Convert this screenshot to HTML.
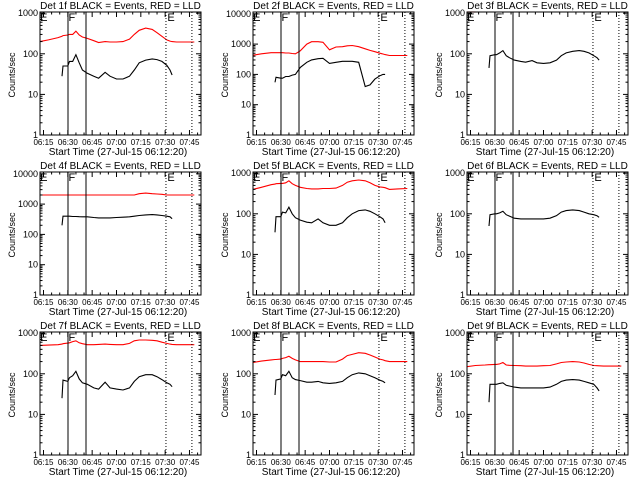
<!DOCTYPE html>
<html><head><meta charset="utf-8"><style>
html,body{margin:0;padding:0;background:#fff}
svg{display:block}
text{font-family:"Liberation Sans",sans-serif;fill:#000}
</style></head><body>
<svg id="chart" width="640" height="480" viewBox="0 0 640 480" xmlns="http://www.w3.org/2000/svg"></svg>
<script>
// time samples: minutes since 06:00
const T = [12.8,18,24,26.4,27,30,31,33,35,37,39,42,46,49,53,56,60,64,68,71,74,78,82,85,88,91,93,94.3,97,102,108];
const n = null;
const detNames = ["1f","2f","3f","4f","5f","6f","7f","8f","9f"];
const decades = [3,4,3,4,3,3,3,3,3];
const xTickLabels = ["06:15","06:30","06:45","07:00","07:15","07:30","07:45"];
const xTickMinutes = [15,30,45,60,75,90,105];
const solidMarks = [30.1,41.2];
const dottedMarks = [90.5,106.5];
const markLetters = ["E","F","E"];
const markLetterTimes = [13.5,31,92];
const black1 = [n,n,n,28,50,50,65,65,95,60,40,33,28,25,35,28,24,24,28,40,60,70,75,72,65,52,40,30,n,n,n];
const red1 = [200,220,250,270,280,290,300,300,360,290,260,240,210,190,200,195,195,200,230,300,380,430,400,330,270,220,205,200,195,195,195];
const black2 = [n,n,n,55,80,75,75,85,85,95,100,170,250,300,330,340,230,250,270,270,270,250,40,45,70,90,100,100,n,n,n];
const red2 = [430,480,520,520,520,520,520,510,510,490,480,600,1000,1200,1200,1150,650,800,820,880,900,820,700,620,560,500,470,450,420,420,420];
const black3 = [n,n,n,45,90,95,95,105,120,90,80,70,65,62,68,60,58,60,70,90,105,115,120,115,105,90,80,70,n,n,n];
const red3 = [1200,1200,n,n,n,n,n,n,n,n,n,1200,1200,1200,1200,1200,1200,1200,n,n,n,n,n,n,n,1200,1200,1200,1200,1200,1200];
const black4 = [n,n,n,200,400,400,400,390,390,385,380,380,360,350,350,350,360,370,380,400,420,440,450,440,420,400,380,330,n,n,n];
const red4 = [2000,2000,2000,2000,2000,2000,2000,2000,2000,2000,2000,2000,2000,2000,2000,2000,2000,2000,2000,2000,2200,2300,2200,2150,2100,2000,2000,2000,2000,2000,2000];
const black5 = [n,n,n,35,85,85,110,105,145,100,80,70,62,60,75,60,52,52,60,80,100,120,125,115,100,85,75,60,n,n,n];
const red5 = [400,450,520,540,550,560,560,580,650,550,500,450,420,410,410,420,420,430,500,600,650,680,650,580,500,460,450,440,400,410,420];
const black6 = [n,n,n,50,95,100,100,105,115,95,88,78,75,75,75,75,75,78,90,110,120,125,120,110,100,95,90,82,n,n,n];
const red6 = [n,n,n,n,n,n,n,n,n,n,n,n,n,n,n,n,n,n,n,n,n,n,n,n,n,n,n,n,n,n,n];
const black7 = [n,n,n,25,70,65,80,90,115,75,60,55,45,42,62,45,42,40,45,65,85,95,95,85,72,60,55,48,n,n,n];
const red7 = [500,510,520,540,550,570,580,620,650,580,550,520,520,530,540,530,520,520,560,650,680,680,670,650,600,560,540,530,520,520,520];
const black8 = [n,n,n,30,70,75,95,90,115,80,72,68,62,62,65,60,58,60,65,80,95,105,100,90,80,70,65,60,n,n,n];
const red8 = [190,205,220,225,225,230,240,250,270,240,220,200,200,200,200,200,195,195,230,280,300,330,320,290,260,230,220,210,200,200,200];
const black9 = [n,n,n,20,55,55,55,58,60,52,50,47,45,45,45,45,45,47,55,65,70,72,70,65,60,55,45,38,n,n,n];
const red9 = [150,160,165,168,168,170,170,175,190,165,162,160,158,155,155,155,158,160,175,190,195,200,195,185,170,160,158,157,155,155,155];
const blacks = [black1,black2,black3,black4,black5,black6,black7,black8,black9];
const reds = [red1,red2,red3,red4,red5,red6,red7,red8,red9];

const NS = "http://www.w3.org/2000/svg";
const svg = document.getElementById("chart");
function mk(tag, attrs, parent){
  const e = document.createElementNS(NS, tag);
  for (const k in attrs) e.setAttribute(k, attrs[k]);
  parent.appendChild(e);
  return e;
}
for (let p = 0; p < 9; p++) {
  const ox = [0,213,427][p % 3], oy = [0,160,320][Math.floor(p / 3)];
  const L = ox + 40, R = ox + 201, TOP = oy + 12, B = oy + 135;
  const dec = decades[p];
  const dpx = dec === 3 ? 40.6 : 30.3;
  const xs = m => L + 3.5 + (m - 15) * 1.622;
  const ys = v => Math.max(TOP, Math.min(B, B - Math.log10(v) * dpx));
  const g = mk("g", {}, svg);
  
  

  const t = mk("text", {x: (L + R) / 2, y: oy + 9, "font-size": 10, "text-anchor": "middle"}, g);
  t.textContent = "Det " + detNames[p] + " BLACK = Events, RED = LLD";
  
  

  [[reds[p], "#ff0000", "red-lld-series"], [blacks[p], "#000", "black-events-series"]].forEach(([arr, col, nm]) => {
    let seg = [];
    const segs = [];
    arr.forEach((v, i) => {
      if (v == null) { if (seg.length) segs.push(seg); seg = []; }
      else seg.push(xs(T[i]).toFixed(1) + "," + ys(v).toFixed(1));
    });
    if (seg.length) segs.push(seg);
    segs.forEach(s => {
      const pl = mk("polyline", {points: s.join(" "), fill: "none", stroke: col, "stroke-width": 1.1}, g);
      
      
    });
  });

  solidMarks.forEach(m => {
    const l = mk("line", {x1: xs(m), x2: xs(m), y1: TOP, y2: B, stroke: "#000", "stroke-width": 1}, g);
    
    
  });
  dottedMarks.forEach(m => {
    const l = mk("line", {x1: xs(m), x2: xs(m), y1: TOP, y2: B, stroke: "#000", "stroke-width": 1, "stroke-dasharray": "1,2"}, g);
    
    
  });
  markLetters.forEach((c, i) => {
    const tx = mk("text", {x: xs(markLetterTimes[i]) - 1, y: TOP + 9, "font-size": 11}, g);
    tx.textContent = c;
    
    
  });

  const fr = mk("rect", {x: L, y: TOP, width: R - L, height: B - TOP, fill: "none", stroke: "#000", "stroke-width": 1}, g);
  
  

  for (let d = 0; d <= dec; d++) {
    const y = B - d * dpx;
    mk("line", {x1: L, x2: L + 5, y1: y, y2: y, stroke: "#000"}, g);
    mk("line", {x1: R, x2: R - 5, y1: y, y2: y, stroke: "#000"}, g);
    const yl = mk("text", {x: L - 2, y: y + 3, "font-size": 9, "text-anchor": "end"}, g);
    yl.textContent = String(Math.pow(10, d));
    
    
    if (d < dec) for (let k = 2; k <= 9; k++) {
      const yy = y - Math.log10(k) * dpx;
      mk("line", {x1: L, x2: L + 2.5, y1: yy, y2: yy, stroke: "#000"}, g);
      mk("line", {x1: R, x2: R - 2.5, y1: yy, y2: yy, stroke: "#000"}, g);
    }
  }
  const yt = mk("text", {x: 0, y: 0, "font-size": 9, "text-anchor": "middle", transform: "translate(" + (ox + 15) + "," + (oy + 75) + ") rotate(-90)"}, g);
  yt.textContent = "Counts/sec";
  
  

  for (let m = 15; m <= 110; m += 5) {
    const x = xs(m);
    if (x > R) break;
    const major = xTickMinutes.indexOf(m) >= 0;
    const len = major ? 5 : 2.5;
    mk("line", {x1: x, x2: x, y1: B, y2: B - len, stroke: "#000"}, g);
    mk("line", {x1: x, x2: x, y1: TOP, y2: TOP + len, stroke: "#000"}, g);
  }
  xTickLabels.forEach((lb, i) => {
    const xl = mk("text", {x: xs(xTickMinutes[i]), y: B + 10, "font-size": 8, "text-anchor": "middle"}, g);
    xl.textContent = lb;
    
    
  });
  const xt = mk("text", {x: ox + 118, y: B + 20, "font-size": 10, "text-anchor": "middle"}, g);
  xt.textContent = "Start Time (27-Jul-15 06:12:20)";
  
  
}
</script>
</body></html>
